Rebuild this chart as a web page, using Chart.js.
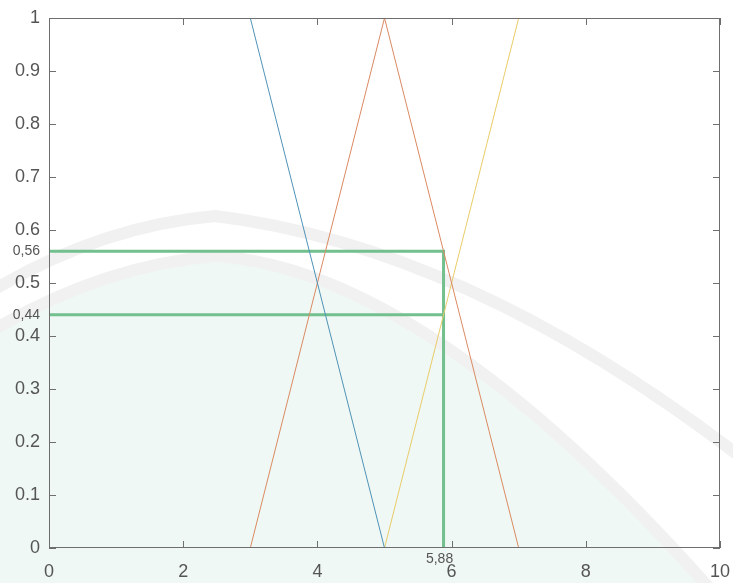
<!DOCTYPE html>
<html>
<head>
<meta charset="utf-8">
<script src="https://cdn.jsdelivr.net/npm/chart.js@4/dist/chart.umd.min.js"></script>
<style>
  html, body { margin: 0; padding: 0; background: #ffffff; }
  canvas { display: block; }
</style>
</head>
<body>
<canvas id="fuzzy" width="733" height="583"></canvas>
<script>
// 소속함수 꼭짓점 (x, y)
const blueX = [0, 3, 5];
const blueY = [1, 1, 0];
const redX = [3, 5, 7];
const redY = [0, 1, 0];
const yellowX = [5, 7, 10];
const yellowY = [0, 1, 1];

// 입력값과 소속도
const inputX = 5.88;
const degreeHigh = 0.56;
const degreeLow = 0.44;

// 눈금
const xTicks = [0, 2, 4, 6, 8, 10];
const yTicks = [0, 0.1, 0.2, 0.3, 0.4, 0.5, 0.6, 0.7, 0.8, 0.9, 1];

const toPoints = (xs, ys) => xs.map((x, i) => ({ x: x, y: ys[i] }));

const line = (data, color, width) => ({
    data: data,
    borderColor: color,
    borderWidth: width,
    pointRadius: 0,
    fill: false,
    tension: 0,
});

// 배경 워터마크 (옅은 아치 모양)
const backdrop = {
    id: 'backdrop',
    beforeDraw(chart) {
        const ctx = chart.ctx;
        ctx.save();
        ctx.fillStyle = '#ffffff';
        ctx.fillRect(0, 0, chart.width, chart.height);

        // 안쪽 민트색 영역
        ctx.fillStyle = '#eff8f4';
        ctx.beginPath();
        ctx.moveTo(-10, 332);
        ctx.quadraticCurveTo(100, 266, 215, 256);
        ctx.quadraticCurveTo(430, 270, 720, 600);
        ctx.lineTo(-10, 600);
        ctx.closePath();
        ctx.fill();

        // 회색 띠 두 줄
        ctx.strokeStyle = '#f1f1f1';
        ctx.lineWidth = 12;
        ctx.beginPath();
        ctx.moveTo(-10, 332);
        ctx.quadraticCurveTo(100, 266, 215, 256);
        ctx.quadraticCurveTo(430, 270, 720, 600);
        ctx.stroke();
        ctx.beginPath();
        ctx.moveTo(-10, 292);
        ctx.quadraticCurveTo(100, 226, 215, 216);
        ctx.quadraticCurveTo(480, 248, 770, 480);
        ctx.stroke();
        ctx.restore();
    }
};

// MATLAB 스타일 박스와 안쪽 눈금, 주석 텍스트
const matlabBox = {
    id: 'matlabBox',
    afterDraw(chart) {
        const ctx = chart.ctx;
        const a = chart.chartArea;
        const xs = chart.scales.x;
        const ys = chart.scales.y;
        ctx.save();
        ctx.strokeStyle = '#6e6e6e';
        ctx.lineWidth = 1;
        ctx.strokeRect(a.left + 0.5, a.top + 0.5, a.right - a.left - 1, a.bottom - a.top - 1);
        const tl = 7;
        ctx.beginPath();
        xTicks.forEach(v => {
            const px = Math.round(xs.getPixelForValue(v)) + 0.5;
            ctx.moveTo(px, a.bottom); ctx.lineTo(px, a.bottom - tl);
            ctx.moveTo(px, a.top); ctx.lineTo(px, a.top + tl);
        });
        yTicks.forEach(v => {
            const py = Math.round(ys.getPixelForValue(v)) + 0.5;
            ctx.moveTo(a.left, py); ctx.lineTo(a.left + tl, py);
            ctx.moveTo(a.right, py); ctx.lineTo(a.right - tl, py);
        });
        ctx.stroke();

        ctx.fillStyle = '#555555';
        ctx.font = '14px "Liberation Sans", Arial, sans-serif';
        ctx.textAlign = 'right';
        ctx.textBaseline = 'middle';
        ctx.fillText('0,56', 40, ys.getPixelForValue(degreeHigh));
        ctx.fillText('0,44', 40, ys.getPixelForValue(degreeLow));
        ctx.textAlign = 'center';
        ctx.fillText('5,88', xs.getPixelForValue(inputX) - 4, a.bottom + 11);
        ctx.restore();
    }
};

new Chart(document.getElementById('fuzzy').getContext('2d'), {
    type: 'scatter',
    data: {
        datasets: [
            line(toPoints(blueX, blueY), '#4f93b8', 1),
            line(toPoints(redX, redY), '#db8a62', 1),
            line(toPoints(yellowX, yellowY), '#e9cc6a', 1),
            line(toPoints([0, inputX, inputX], [degreeHigh, degreeHigh, 0]), '#72c08e', 3),
            line(toPoints([0, inputX], [degreeLow, degreeLow]), '#72c08e', 3),
        ]
    },
    options: {
        responsive: false,
        animation: false,
        showLine: true,
        layout: { padding: { top: 18, right: 13, left: 0, bottom: 0 } },
        plugins: {
            legend: { display: false },
            tooltip: { enabled: false },
        },
        scales: {
            x: {
                type: 'linear',
                min: 0,
                max: 10,
                afterBuildTicks: s => { s.ticks = xTicks.map(v => ({ value: v })); },
                afterFit: s => { s.height = 35; s.paddingLeft = 0; s.paddingRight = 0; },
                grid: { display: false, drawTicks: false },
                border: { display: false },
                ticks: {
                    padding: 13,
                    color: '#555555',
                    font: { family: '"Liberation Sans", Arial, sans-serif', size: 18 },
                    callback: v => String(v),
                },
            },
            y: {
                type: 'linear',
                min: 0,
                max: 1,
                afterBuildTicks: s => { s.ticks = yTicks.map(v => ({ value: v })); },
                afterFit: s => { s.width = 49; s.paddingTop = 0; s.paddingBottom = 0; },
                grid: { display: false, drawTicks: false },
                border: { display: false },
                ticks: {
                    padding: 9,
                    color: '#555555',
                    font: { family: '"Liberation Sans", Arial, sans-serif', size: 18 },
                    callback: v => (v === 0 || v === 1) ? String(v) : v.toFixed(1),
                },
            },
        },
    },
    plugins: [backdrop, matlabBox],
});
</script>
</body>
</html>
